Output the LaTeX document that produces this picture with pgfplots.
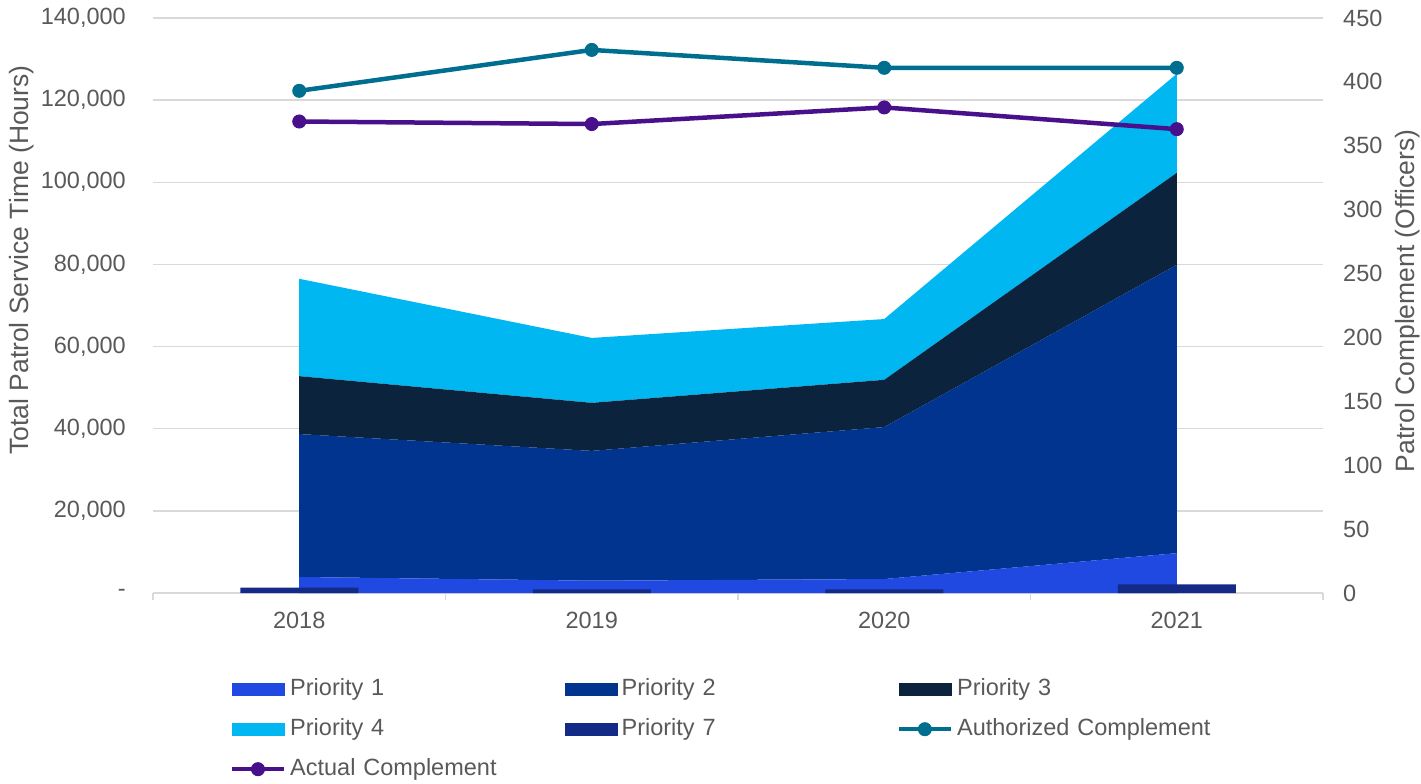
\documentclass[border=0pt]{standalone}
\usepackage{fontspec}
\setmainfont{Liberation Sans}
\usepackage{pgfplots}
\pgfplotsset{compat=1.18}

\definecolor{pone}{RGB}{31,73,225}
\definecolor{ptwo}{RGB}{0,52,143}
\definecolor{pthree}{RGB}{12,35,61}
\definecolor{pfour}{RGB}{0,183,241}
\definecolor{pseven}{RGB}{19,42,134}
\definecolor{authc}{RGB}{0,110,143}
\definecolor{actc}{RGB}{73,16,140}
\definecolor{gridgray}{RGB}{217,217,217}
\definecolor{txtgray}{RGB}{89,89,89}

\newcommand{\chartfont}{\fontsize{23.5bp}{28bp}\selectfont}
\newcommand{\labelfont}{\fontsize{26.5bp}{32bp}\selectfont}

\pgfplotsset{
  swatch/.style={legend image code/.code={\fill[#1] (0bp,-6bp) rectangle (52bp,6bp); \path (56bp,0bp);}},
  linelegend/.style={legend image code/.code={\draw[mark repeat=2,mark phase=2,##1] plot coordinates {(0bp,0bp) (26bp,0bp) (52bp,0bp)}; \path (56bp,0bp);}},
  base/.style={
    scale only axis, width=1170bp, height=575bp,
    xmin=-0.5, xmax=3.5,
    scaled ticks=false,
    tick label style={font=\chartfont, text=txtgray},
    label style={font=\labelfont, text=txtgray},
  },
}

\begin{document}
\begin{tikzpicture}
% hours, stacked areas
\begin{axis}[base,
  ymin=0, ymax=140000,
  axis lines*=left,
  y axis line style={draw=none},
  x axis line style={draw=gridgray, line width=1.3bp},
  stack plots=y,
  ymajorgrids, grid style={gridgray, line width=1.3bp},
  ytick={0,20000,40000,60000,80000,100000,120000,140000},
  yticklabels={{-},{20,000},{40,000},{60,000},{80,000},{100,000},{120,000},{140,000}},
  yticklabel style={inner sep=0pt, anchor=east, xshift=-27bp},
  ytick style={draw=none},
  xtick={0,1,2,3},
  xticklabels={2018,2019,2020,2021},
  xticklabel style={inner sep=0pt, anchor=north, yshift=-19bp},
  xtick pos=lower, ytick pos=left,
  minor xtick={-0.5,0.5,1.5,2.5,3.5},
  major tick length=0pt, minor tick length=7bp,
  tick align=outside,
  minor tick style={gridgray, line width=1.3bp},
  ylabel={Total Patrol Service Time (Hours)},
  ylabel style={at={(axis description cs:-0.112,0.579)}, anchor=center},
]
\addplot[fill=pone, draw=none] coordinates {(0,3900) (1,3000) (2,3400) (3,9700)} \closedcycle;
\addplot[fill=ptwo, draw=none] coordinates {(0,34800) (1,31600) (2,37000) (3,70200)} \closedcycle;
\addplot[fill=pthree, draw=none] coordinates {(0,14100) (1,11700) (2,11500) (3,22400)} \closedcycle;
\addplot[fill=pfour, draw=none] coordinates {(0,23700) (1,15800) (2,14800) (3,24100)} \closedcycle;
\coordinate (bl) at (axis description cs:-0.13077,-0.33043);
\coordinate (tr) at (axis description cs:1.08376,1.03130);
\end{axis}

% priority 7 bars
\begin{axis}[base, hide axis, ymin=0, ymax=140000, ybar, bar width=118bp]
\addplot[fill=pseven, draw=none] coordinates {(0,1300) (1,900) (2,900) (3,2100)};
\end{axis}

% complement lines
\begin{axis}[base,
  ymin=0, ymax=450,
  axis y line*=right, axis x line=none,
  y axis line style={draw=none},
  ytick={0,50,100,150,200,250,300,350,400,450},
  yticklabels={0,50,100,150,200,250,300,350,400,450},
  yticklabel style={inner sep=0pt, anchor=west, xshift=20bp},
  ytick style={draw=none},
  major tick length=0pt,
  ylabel={Patrol Complement (Officers)},
  ylabel style={at={(axis description cs:1.0726,0.508)}, anchor=center, rotate=0},
  legend columns=3,
  legend cell align=left,
  legend style={at={(axis description cs:0.0654,-0.1478)}, anchor=north west,
    draw=none, fill=none, inner sep=0pt, row sep=18bp,
    nodes={inner sep=0pt, text width=275bp, align=left, text height=17bp, text depth=5bp, font=\chartfont, text=txtgray}},
]
\addlegendimage{swatch=pone}
\addlegendentry{Priority 1}
\addlegendimage{swatch=ptwo}
\addlegendentry{Priority 2}
\addlegendimage{swatch=pthree}
\addlegendentry{Priority 3}
\addlegendimage{swatch=pfour}
\addlegendentry{Priority 4}
\addlegendimage{swatch=pseven}
\addlegendentry{Priority 7}
\addplot[authc, line width=4.5bp, mark=*, mark size=6.5bp, mark options={solid, line width=1bp}, linelegend]
  coordinates {(0,393) (1,425) (2,411) (3,411)};
\addlegendentry{Authorized Complement}
\addplot[actc, line width=4.5bp, mark=*, mark size=6.5bp, mark options={solid, line width=1bp}, linelegend]
  coordinates {(0,369) (1,367) (2,380) (3,363)};
\addlegendentry{Actual Complement}
\end{axis}
\pgfresetboundingbox
\path (bl) rectangle (tr);
\end{tikzpicture}
\end{document}
